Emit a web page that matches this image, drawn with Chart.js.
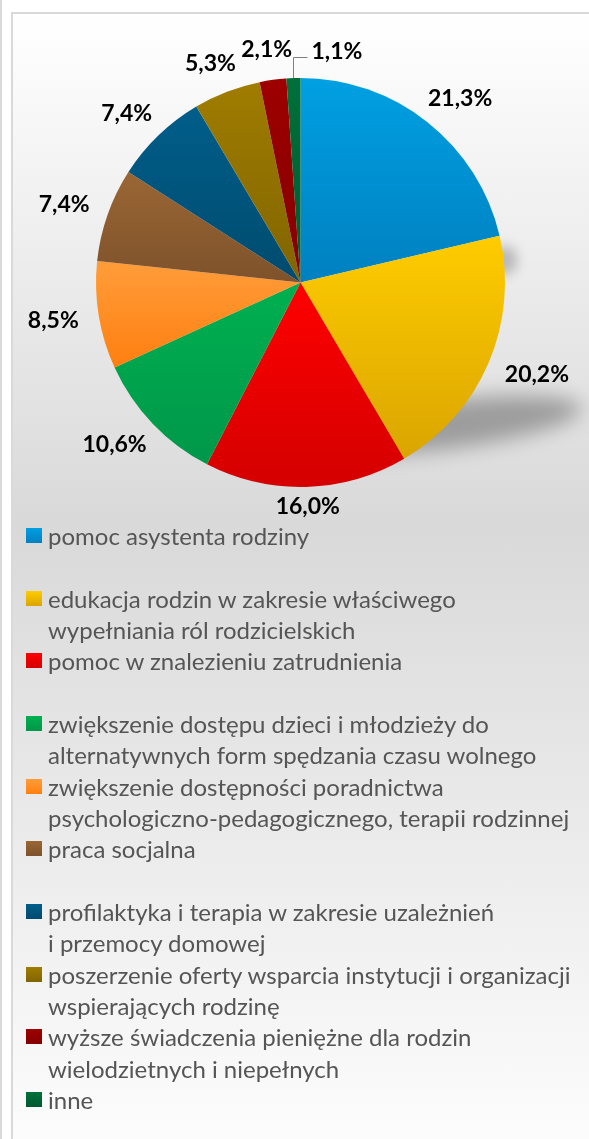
<!DOCTYPE html>
<html>
<head>
<meta charset="utf-8">
<script src="https://cdn.jsdelivr.net/npm/chart.js@4.4.1/dist/chart.umd.min.js"></script>
<style>
  html, body { margin:0; padding:0; background:#fff; }
  #page { position:relative; width:589px; height:1139px; overflow:hidden; background:#fff; }
  #outer { position:absolute; left:0; top:0; width:2px; height:1139px; background:#d9d9d9; }
  #frame { position:absolute; left:11px; top:12px; right:-10px; bottom:-10px;
           border-left:2px solid #d9d9d9; border-top:2px solid #d9d9d9;
           background:linear-gradient(to bottom, #ffffff 0%, #d9d9d9 45%, #fdfdfd 100%); }
  #chart { position:absolute; left:0; top:0; }
  #legend { position:absolute; left:26px; top:520px; font-family:Lato, sans-serif;
            font-size:24px; color:#555555; white-space:nowrap; }
  .item { display:flex; height:62.67px; }
  .sw { width:16px; height:15px; margin-top:8px; margin-right:6px; flex:none; }
  .txt { line-height:31.33px; }
</style>
</head>
<body>
<div id="page">
  <div id="outer"></div>
  <div id="frame"></div>
  <canvas id="chart" width="589" height="530"></canvas>
  <div id="legend"></div>
</div>
<script>
// ── data ───────────────────────────────────────────
const labels = [
  ['pomoc asystenta rodziny'],
  ['edukacja rodzin w zakresie właściwego', 'wypełniania ról rodzicielskich'],
  ['pomoc w znalezieniu zatrudnienia'],
  ['zwiększenie dostępu dzieci i młodzieży do', 'alternatywnych form spędzania czasu wolnego'],
  ['zwiększenie dostępności poradnictwa', 'psychologiczno-pedagogicznego, terapii rodzinnej'],
  ['praca socjalna'],
  ['profilaktyka i terapia w zakresie uzależnień', 'i przemocy domowej'],
  ['poszerzenie oferty wsparcia instytucji i organizacji', 'wspierających rodzinę'],
  ['wyższe świadczenia pieniężne dla rodzin', 'wielodzietnych i niepełnych'],
  ['inne']
];
const values = [21.3, 20.2, 16.0, 10.6, 8.5, 7.4, 7.4, 5.3, 2.1, 1.1];
const colorTop    = ['#00A0E2','#FFCC00','#FF0000','#00B050','#FF9D3A','#9A6634','#005E8A','#A07D00','#9E0000','#00703A'];
const colorBottom = ['#0080C0','#DAA500','#D40000','#00974A','#FF7F10','#7E522B','#004B6E','#806400','#840000','#005A2E'];

// ── per-slice vertical gradient (Excel style) ──────
function sliceFill(ctx) {
  const chart = ctx.chart, area = chart.chartArea, i = ctx.dataIndex;
  if (!area) return colorTop[i];
  const cx = (area.left + area.right) / 2, cy = (area.top + area.bottom) / 2;
  const r = Math.min(area.width, area.height) / 2;
  const total = values.reduce((a, b) => a + b, 0);
  const a0 = values.slice(0, i).reduce((a, b) => a + b, 0) / total * 2 * Math.PI - Math.PI / 2;
  const a1 = a0 + values[i] / total * 2 * Math.PI;
  const ys = [cy, cy + r * Math.sin(a0), cy + r * Math.sin(a1)];
  [-Math.PI / 2, Math.PI / 2, 3 * Math.PI / 2].forEach(k => { if (k >= a0 && k <= a1) ys.push(cy + r * Math.sin(k)); });
  const g = chart.ctx.createLinearGradient(0, Math.min(...ys), 0, Math.max(...ys));
  g.addColorStop(0, colorTop[i]);
  g.addColorStop(1, colorBottom[i]);
  return g;
}

// ── perspective-like shadow behind the pie ─────────
const pieShadow = {
  id: 'pieShadow',
  beforeDatasetsDraw(chart) {
    const arc = chart.getDatasetMeta(0).data[0];
    if (!arc) return;
    const p = arc.getProps(['x', 'y', 'outerRadius'], true);
    const r = p.outerRadius;
    const c = chart.ctx;
    c.save();
    c.filter = 'blur(10px)';
    c.fillStyle = 'rgba(0,0,0,0.3)';
    c.beginPath();
    c.ellipse(p.x + 0.66 * r, p.y + 0.7 * r, 0.72 * r, 0.12 * r, -0.12, 0, 2 * Math.PI);
    c.fill();
    c.filter = 'blur(6px)';
    c.fillStyle = 'rgba(0,0,0,0.22)';
    c.beginPath();
    c.ellipse(p.x + 1.0 * r, p.y - 0.11 * r, 0.06 * r, 0.07 * r, 0, 0, 2 * Math.PI);
    c.fill();
    c.restore();
  }
};

// ── outside percentage labels ──────────────────────
const pctLabels = {
  id: 'pctLabels',
  afterDatasetsDraw(chart) {
    const c = chart.ctx;
    const meta = chart.getDatasetMeta(0);
    c.save();
    c.font = 'bold 23px Lato';
    c.fillStyle = '#000';
    c.textBaseline = 'middle';
    meta.data.forEach((arc, i) => {
      const p = arc.getProps(['x', 'y', 'startAngle', 'endAngle', 'outerRadius'], true);
      const mid = (p.startAngle + p.endAngle) / 2;
      const ux = Math.cos(mid), uy = Math.sin(mid);
      const text = values[i].toFixed(1).replace('.', ',') + '%';
      const w = c.measureText(text).width, h = 20;
      if (values[i] < 1.5) {
        // tiny slice: leader line
        const x0 = Math.round(p.x + ux * p.outerRadius) + 0.5, y0 = p.y + uy * p.outerRadius;
        c.strokeStyle = '#808080';
        c.lineWidth = 1;
        c.beginPath();
        c.moveTo(x0, y0);
        c.lineTo(x0, Math.round(y0 - 21) + 0.5);
        c.lineTo(x0 + 14, Math.round(y0 - 21) + 0.5);
        c.stroke();
        c.textAlign = 'left';
        c.fillText(text, x0 + 18, y0 - 27);
        return;
      }
      const d = p.outerRadius + 20.5;
      const tx = p.x + ux * d + ux * w / 2;
      const ty = Math.min(p.y + uy * d + uy * h / 2, chart.height - 13 - h / 2);
      c.textAlign = 'center';
      c.fillText(text, tx, ty);
    });
    c.restore();
  }
};

// ── legend (html, built from the same arrays) ──────
const legendEl = document.getElementById('legend');
labels.forEach((lines, i) => {
  const item = document.createElement('div');
  item.className = 'item';
  const sw = document.createElement('div');
  sw.className = 'sw';
  sw.style.background = `linear-gradient(to bottom, ${colorTop[i]}, ${colorBottom[i]})`;
  const txt = document.createElement('div');
  txt.className = 'txt';
  txt.innerHTML = lines.join('<br>');
  item.appendChild(sw);
  item.appendChild(txt);
  legendEl.appendChild(item);
});

function draw() {
  new Chart(document.getElementById('chart'), {
    type: 'pie',
    data: {
      labels,
      datasets: [{
        data: values,
        backgroundColor: sliceFill,
        borderWidth: 0,
        hoverOffset: 0,
        offset: 0
      }]
    },
    options: {
      responsive: false,
      maintainAspectRatio: false,
      animation: false,
      events: [],
      layout: { padding: { left: 96, right: 84, top: 78, bottom: 43 } },
      plugins: { legend: { display: false }, tooltip: { enabled: false } }
    },
    plugins: [pieShadow, pctLabels]
  });
}
document.fonts.load('bold 23px Lato').then(draw, draw);
</script>
</body>
</html>
